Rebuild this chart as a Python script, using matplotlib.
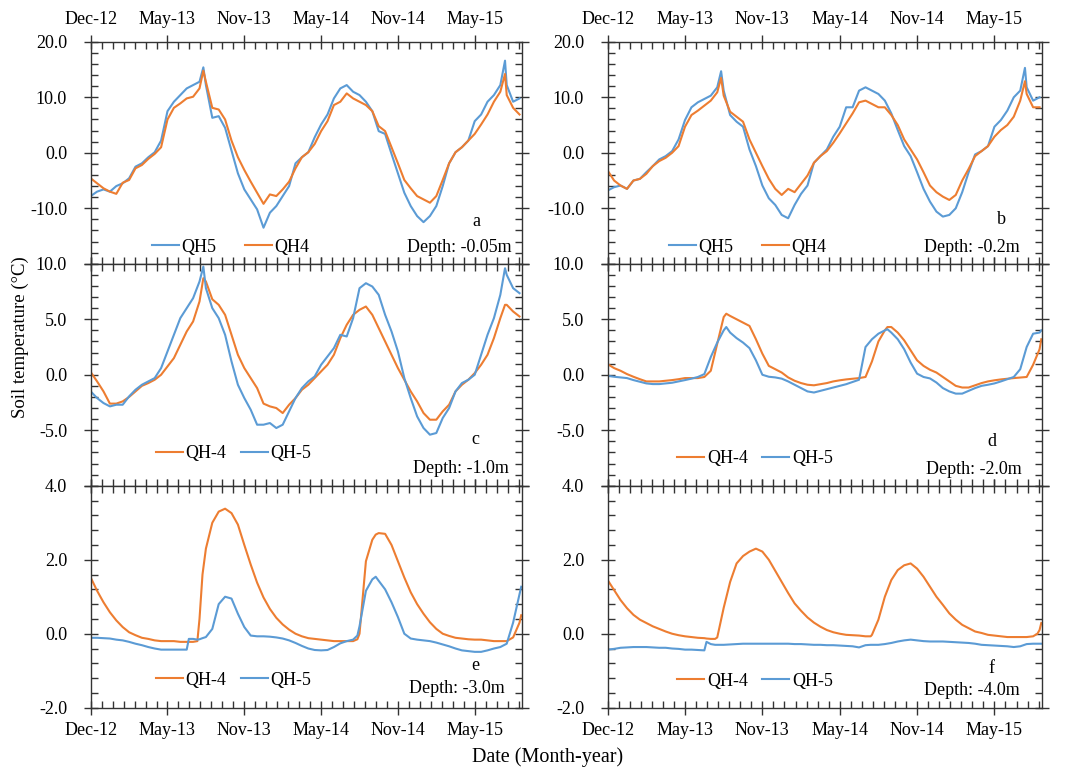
import matplotlib
matplotlib.use('Agg')
import matplotlib.pyplot as plt
from matplotlib.ticker import MultipleLocator, FuncFormatter
from datetime import datetime, timedelta

plt.rcParams['font.family'] = ['Liberation Serif', 'DejaVu Serif']
plt.rcParams['axes.unicode_minus'] = False

# days since 1 Dec 2012
grid = list(range(0, 1006, 15))
days_ab = sorted(grid + [264, 971])
days_c = days_ab
days_d = sorted(grid + [276, 651, 1009])
days_e = sorted(grid + [220, 230, 250, 262, 625, 668, 1009])
days_f = sorted(grid + [230, 250, 612, 1000, 1009])

# panel a, depth -0.05 m
a_qh4 = [-4.6, -5.5, -6.4, -7.0, -7.4, -5.4, -4.9, -2.8, -2.2, -1.1, -0.2, 1.0, 6.0, 8.1, 8.9, 9.8, 10.1, 11.6,
         14.8,
         12.8, 8.1, 7.8, 6.0, 2.2, -0.8, -3.1, -5.2, -7.2, -9.2, -7.5, -7.8, -6.6, -5.2, -2.8, -0.8, 0.1, 1.6, 3.9, 5.7,
         8.6, 9.2, 10.7, 9.8, 9.2, 8.6, 7.5, 4.8, 3.9, 1.0, -1.9, -4.9, -6.4, -7.8, -8.4, -9.0, -7.8, -4.9, -1.9, 0.1,
         1.0, 2.2, 3.4, 5.1, 6.9, 9.2, 11.0,
         14.2, 10.4, 8.1, 6.9]
a_qh5 = [-7.8, -7.0, -6.6, -7.0, -6.0, -5.5, -4.6, -2.5, -1.9, -0.8, 0.1, 2.2, 7.5, 9.2, 10.4, 11.6, 12.2, 12.8,
         15.4,
         12.2, 6.3, 6.6, 4.5, 0.4, -3.7, -6.6, -8.4, -10.2, -13.5, -10.8, -9.6, -7.8, -6.0, -1.9, -0.8, 0.1, 2.8, 5.1,
         6.9, 9.8, 11.6, 12.2, 11.0, 10.4, 9.2, 7.5, 3.9, 3.4, -0.2, -3.7, -7.2, -9.6, -11.4, -12.5, -11.4, -9.6, -6.0,
         -1.9, 0.1, 1.0, 2.2, 5.7, 6.9, 9.2, 10.4, 12.2,
         16.6, 12.2, 9.2, 9.8]

# panel b, depth -0.2 m
b_qh4 = [-3.2, -5.0, -5.9, -6.5, -5.0, -4.7, -3.8, -2.4, -1.5, -0.9, 0.0, 1.2, 4.7, 6.8, 7.6, 8.5, 9.4, 10.9,
         13.5,
         10.3, 7.4, 6.5, 5.6, 2.4, 0.0, -2.4, -4.7, -6.5, -7.6, -6.5, -7.1, -5.6, -4.1, -1.8, -0.6, 0.3, 1.8, 3.5, 5.3,
         7.1, 9.1, 9.4, 8.8, 8.2, 8.2, 6.8, 5.0, 2.4, 0.6, -1.2, -3.5, -5.9, -7.1, -7.9, -8.5, -7.6, -5.0, -2.9, -0.6,
         0.3, 1.2, 2.9, 4.1, 5.0, 6.5, 9.4,
         12.9, 10.6, 8.2, 8.2]
b_qh5 = [-6.8, -6.2, -5.9, -6.5, -5.0, -4.7, -3.5, -2.4, -1.2, -0.6, 0.3, 2.4, 5.9, 8.2, 9.1, 9.7, 10.3, 11.8,
         14.7,
         11.2, 6.8, 5.6, 4.7, 0.6, -2.4, -5.9, -8.2, -9.4, -11.2, -11.8, -9.4, -7.4, -5.9, -1.8, -0.6, 0.6, 2.9, 4.7,
         8.2, 8.2, 11.2, 11.8, 11.2, 10.6, 9.4, 7.1, 4.1, 1.2, -0.6, -3.5, -6.5, -8.8, -10.6, -11.5, -11.2, -10.0, -7.1,
         -3.5, -0.3, 0.3, 1.2, 4.7, 5.9, 7.6, 10.0, 11.2,
         15.3, 11.8, 9.4, 10.0]

# panel c, depth -1.0 m
c_qh4 = [0.24, -0.6, -1.5, -2.6, -2.6, -2.4, -2.0, -1.5, -1.0, -0.75, -0.45, 0.0, 0.75, 1.5, 2.7, 3.9, 4.8, 6.6,
         8.7,
         8.4, 6.8, 6.3, 5.4, 3.6, 1.8, 0.6, -0.3, -1.2, -2.6, -2.85, -3.0, -3.45, -2.7, -2.1, -1.35, -0.9, -0.3, 0.3,
         0.9, 1.8, 3.3, 4.5, 5.4, 5.85, 6.15, 5.4, 4.2, 3.0, 1.8, 0.6, -0.45, -1.5, -2.4, -3.45, -4.05, -4.05, -3.3,
         -2.7, -1.5, -0.9, -0.45, 0.15, 0.9, 1.8, 3.3, 5.1,
         6.3, 6.3, 5.7, 5.25]
c_qh5 = [-1.5, -2.1, -2.55, -2.85, -2.7, -2.7, -1.95, -1.35, -0.9, -0.6, -0.3, 0.6, 2.1, 3.6, 5.1, 6.0, 6.9, 8.4,
         9.75,
         7.8, 6.0, 5.1, 3.6, 1.2, -0.9, -2.1, -3.15, -4.5, -4.5, -4.35, -4.8, -4.5, -3.3, -2.1, -1.2, -0.6, -0.15, 0.9,
         1.65, 2.4, 3.6, 3.45, 5.1, 7.8, 8.25, 7.95, 7.2, 5.4, 3.9, 2.1, -0.3, -2.1, -3.75, -4.8, -5.4, -5.25, -3.9,
         -3.0, -1.5, -0.75, -0.45, 0.0, 1.8, 3.6, 5.1, 7.2,
         9.6, 9.0, 7.8, 7.35]

# panel d, depth -2.0 m
d_qh4 = [0.96, 0.6, 0.36, 0.06, -0.18, -0.4, -0.6, -0.6, -0.6, -0.54, -0.48, -0.4, -0.3, -0.3, -0.3, -0.2, 0.36,
         2.8, 5.2,
         5.5,
         5.3, 5.0, 4.7, 4.4, 3.2, 1.9, 0.8, 0.5, 0.2, -0.24, -0.54, -0.75, -0.9, -0.95, -0.85, -0.75, -0.6, -0.5,
         -0.42, -0.36, -0.3, -0.2, 1.2, 3.0, 4.0,
         4.3,
         4.3, 3.8, 3.1, 2.2, 1.3, 0.8, 0.45, 0.2, -0.2, -0.6, -1.0, -1.15, -1.15, -0.95, -0.75, -0.6, -0.5, -0.42,
         -0.36, -0.3, -0.25, -0.2, 0.9, 2.3,
         3.2]
d_qh5 = [-0.1, -0.18, -0.24, -0.3, -0.48, -0.63, -0.78, -0.84, -0.84, -0.78, -0.72, -0.6, -0.48, -0.35, -0.2, 0.06,
         1.6, 2.9, 4.0,
         4.3,
         3.8, 3.3, 2.9, 2.4, 1.3, 0.0, -0.18, -0.24, -0.35, -0.6, -0.9, -1.2, -1.5, -1.6, -1.45, -1.3, -1.15, -1.0,
         -0.85, -0.65, -0.45, 2.5, 3.2, 3.7, 4.0,
         4.1,
         3.8, 3.2, 2.3, 1.1, 0.1, -0.2, -0.33, -0.7, -1.2, -1.5, -1.7, -1.7, -1.45, -1.2, -1.0, -0.9, -0.78, -0.6,
         -0.4, -0.2, 0.5, 2.5, 3.7, 3.8,
         4.0]

# panel e, depth -3.0 m
e_qh4 = [1.52, 1.16, 0.85, 0.58, 0.36, 0.18, 0.04, -0.04, -0.11, -0.14, -0.18, -0.2, -0.2, -0.2, -0.22,
         -0.22, -0.22, -0.22, -0.22, -0.2, 0.4, 1.6,
         2.3, 3.0, 3.3, 3.38, 3.26, 2.95, 2.4, 1.87, 1.38, 0.98, 0.67, 0.43, 0.25, 0.11, 0.0, -0.07, -0.12, -0.14,
         -0.16, -0.18, -0.2, -0.2, -0.2, -0.2,
         -0.15,
         0.0, 1.96, 2.54,
         2.68,
         2.72, 2.7, 2.4, 1.96, 1.52, 1.12, 0.8, 0.54, 0.31, 0.13, 0.0, -0.06, -0.11, -0.13, -0.15, -0.16, -0.16,
         -0.18, -0.2, -0.2, -0.2, -0.1, 0.3,
         0.5]
e_qh5 = [-0.11, -0.11, -0.12, -0.13, -0.16, -0.18, -0.22, -0.27, -0.31, -0.36, -0.4, -0.43, -0.43, -0.43, -0.43,
         -0.43, -0.43, -0.14, -0.14, -0.16, -0.15, -0.12,
         -0.09, 0.13, 0.8, 1.0, 0.95, 0.54, 0.18, -0.05, -0.07, -0.07, -0.08, -0.1, -0.13, -0.18, -0.25, -0.33, -0.4,
         -0.44, -0.45, -0.44, -0.36, -0.26, -0.2, -0.16,
         -0.05,
         0.2, 1.16, 1.47,
         1.54,
         1.43, 1.2, 0.85, 0.45, 0.0, -0.13, -0.16, -0.18, -0.2, -0.24, -0.29, -0.34, -0.4, -0.45, -0.47, -0.49, -0.49,
         -0.45, -0.4, -0.36, -0.27, 0.3, 1.07,
         1.27]

# panel f, depth -4.0 m
f_qh4 = [1.45, 1.18, 0.91, 0.69, 0.51, 0.38, 0.29, 0.2, 0.13, 0.06, 0.0, -0.04, -0.07, -0.09, -0.11, -0.12,
         -0.13, -0.14, -0.14,
         -0.1, 0.7, 1.4, 1.9, 2.1, 2.22, 2.3, 2.22, 2.0, 1.7, 1.4, 1.1, 0.82, 0.62, 0.44, 0.3, 0.19, 0.1, 0.04, 0.0,
         -0.03, -0.04, -0.05, -0.07,
         -0.07,
         -0.03, 0.38, 1.0, 1.45, 1.72, 1.85, 1.9, 1.76, 1.54, 1.27, 1.0, 0.78, 0.55, 0.38, 0.24, 0.15, 0.06, 0.02,
         -0.03, -0.05, -0.07, -0.09, -0.09, -0.09, -0.09, -0.07,
         0.0, 0.1, 0.29]
f_qh5 = [-0.43, -0.41, -0.38, -0.37, -0.36, -0.36, -0.36, -0.37, -0.38, -0.38, -0.4, -0.41, -0.43, -0.43, -0.44,
         -0.45,
         -0.22, -0.28, -0.3,
         -0.3, -0.3, -0.29, -0.28, -0.27, -0.27, -0.27, -0.27, -0.27, -0.27, -0.27, -0.27, -0.28, -0.28, -0.29, -0.3,
         -0.3, -0.31, -0.31, -0.32, -0.33, -0.34, -0.37, -0.31,
         -0.3,
         -0.3, -0.3, -0.28, -0.25, -0.21, -0.18, -0.16, -0.18, -0.2, -0.21, -0.21, -0.21, -0.22, -0.23, -0.24, -0.25,
         -0.27, -0.3, -0.31, -0.32, -0.33, -0.34, -0.36, -0.34, -0.28, -0.27,
         -0.27, -0.27, -0.27]

major_days = [0, 180, 360, 540, 720, 900]
start = datetime(2012, 12, 1)
major_labels = [(start + timedelta(days=d)).strftime('%b-%y') for d in major_days]

blue = '#5B9BD5'
orange = '#ED7D31'

fig = plt.figure(figsize=(10.67, 7.67), dpi=100)
col_x = [0.085, 0.5695]
col_w = [0.4039, 0.4068]
bottom = 0.0773
h = 0.2894

# row, col, days, series 1, series 2, labels, colours, letter, depth text, ylim, major, minor,
# legend (x, y, column spacing), depth (x, y), letter (x, y)
panels = [
    (0, 0, days_ab, a_qh5, a_qh4, ['QH5', 'QH4'], [blue, orange], 'a', 'Depth: -0.05m', (-20, 20), 10, 2,
     (0.142, 0.075, 1.55), (0.977, 0.075), (0.896, 0.189)),
    (0, 1, days_ab, b_qh5, b_qh4, ['QH5', 'QH4'], [blue, orange], 'b', 'Depth: -0.2m', (-20, 20), 10, 2,
     (0.141, 0.075, 1.55), (0.95, 0.075), (0.908, 0.198)),
    (1, 0, days_c, c_qh4, c_qh5, ['QH-4', 'QH-5'], [orange, blue], 'c', 'Depth: -1.0m', (-10, 10), 5, 1,
     (0.151, 0.144, 0.8), (0.97, 0.078), (0.892, 0.207)),
    (1, 1, days_d, d_qh4, d_qh5, ['QH-4', 'QH-5'], [orange, blue], 'd', 'Depth: -2.0m', (-10, 10), 5, 1,
     (0.16, 0.123, 0.8), (0.954, 0.072), (0.885, 0.198)),
    (2, 0, days_e, e_qh4, e_qh5, ['QH-4', 'QH-5'], [orange, blue], 'e', 'Depth: -3.0m', (-2, 4), 2, 0.4,
     (0.151, 0.124, 0.8), (0.96, 0.088), (0.892, 0.19)),
    (2, 1, days_f, f_qh4, f_qh5, ['QH-4', 'QH-5'], [orange, blue], 'f', 'Depth: -4.0m', (-2, 4), 2, 0.4,
     (0.16, 0.12, 0.8), (0.95, 0.076), (0.885, 0.178)),
]

for row, col, days, s1, s2, labs, cols, letter, depth, ylim, ymaj, ymin, leg, dpos, lpos in panels:
    ax = fig.add_axes([col_x[col], bottom + (2 - row) * h, col_w[col], h])
    l1, = ax.plot(days, s1, color=cols[0], lw=1.5)
    l2, = ax.plot(days, s2, color=cols[1], lw=1.5)
    ax.set_xlim(0, 1010)
    ax.set_ylim(*ylim)
    ax.set_xticks(major_days)
    ax.set_xticklabels(major_labels)
    ax.xaxis.set_minor_locator(MultipleLocator(180 / 7))
    ax.yaxis.set_major_locator(MultipleLocator(ymaj))
    ax.yaxis.set_minor_locator(MultipleLocator(ymin))
    lo = ylim[0]
    if row < 2:
        ax.yaxis.set_major_formatter(FuncFormatter(lambda v, p, lo=lo: '' if abs(v - lo) < 1e-9 else '%.1f' % v))
    else:
        ax.yaxis.set_major_formatter(FuncFormatter(lambda v, p: '%.1f' % v))
    ax.tick_params(which='major', direction='inout', length=10, width=1, top=True, right=True, labelsize=13)
    ax.tick_params(which='minor', direction='in', length=5, width=1, top=True, right=True)
    ax.tick_params(axis='y', which='major', pad=12)
    ax.tick_params(axis='x', which='major', pad=5)
    if row == 0:
        ax.tick_params(axis='x', labeltop=True, labelbottom=False)
    elif row == 1:
        ax.tick_params(axis='x', labelbottom=False)
    for sp in ax.spines.values():
        sp.set_linewidth(1.0)
        sp.set_color('#333333')
    ax.tick_params(colors='#333333', labelcolor='black', which='both')
    ax.legend([l1, l2], labs, loc='center left', bbox_to_anchor=(leg[0], leg[1]), ncol=2, frameon=False,
              fontsize=13, handlelength=1.5, handletextpad=0.15, columnspacing=leg[2], borderpad=0, borderaxespad=0)
    ax.text(dpos[0], dpos[1], depth, transform=ax.transAxes, ha='right', va='center', fontsize=13)
    ax.text(lpos[0], lpos[1], letter, transform=ax.transAxes, ha='center', va='center', fontsize=13)

fig.text(0.019, 0.561, 'Soil temperature (°C)', rotation=90, ha='center', va='center', fontsize=13.5)
fig.text(0.5136, 0.0134, 'Date (Month-year)', ha='center', va='center', fontsize=14.5)

fig.savefig('out.png', dpi=100)
